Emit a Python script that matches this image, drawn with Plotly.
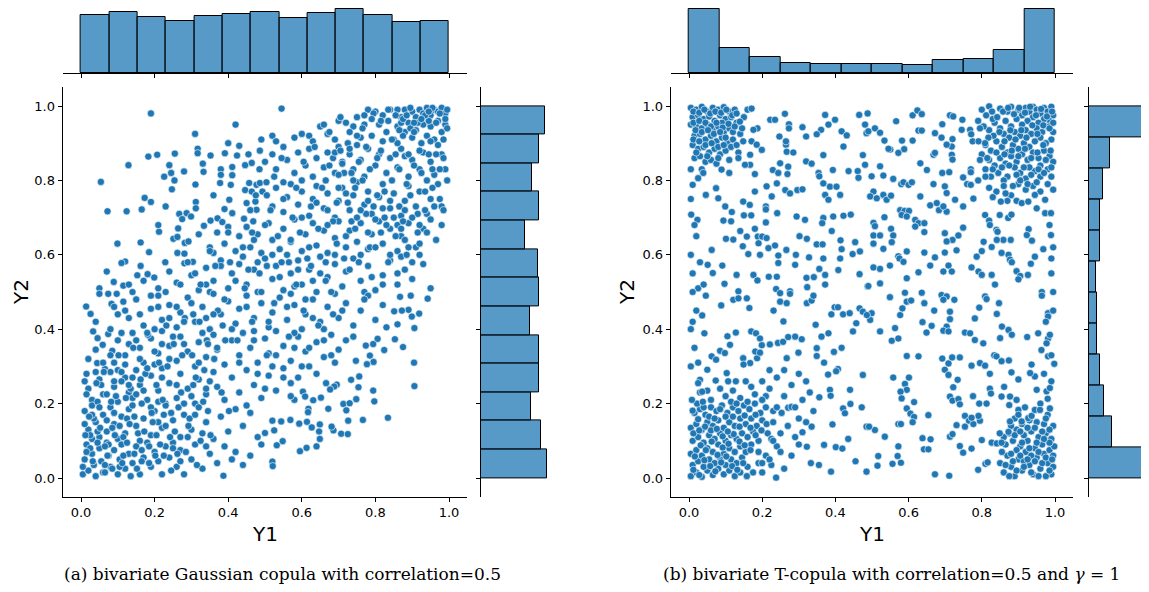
import plotly.graph_objects as go

W, H = 1149, 592          # screen size of the target picture
OFF = 8                   # default page margin offset of the figure div
FW, FH = W - OFF, H - OFF # figure size

TICKS = [0.0, 0.2, 0.4, 0.6, 0.8, 1.0]
TICK_LABELS = ["0.0", "0.2", "0.4", "0.6", "0.8", "1.0"]

# ---------------- marginal histogram counts ----------------
gauss_y1_counts = [78, 82, 75, 70, 76, 79, 82, 74, 80, 86, 78, 68, 70]      # 13 bins, Y1
gauss_y2_counts = [90, 82, 69, 79, 80, 67, 80, 78, 60, 79, 70, 79, 88]      # 13 bins, Y2 (bottom->top)
t_y1_counts = [245, 94, 60, 39, 33, 33, 35, 29, 48, 52, 88, 245]            # 12 bins, Y1
t_y2_counts = [230, 90, 60, 44, 33, 30, 26, 43, 43, 55, 84, 261]            # 12 bins, Y2 (bottom->top)

# ---------------- (a) Gaussian copula sample, estimated points (Y1, Y2) ----------------
gauss_top = [(.19,.98),(.42,.95),(.31,.925),(.49,.91),(.545,.993),(.40,.90),(.43,.893),(.52,.92),(.53,.905),(.58,.915),(.60,.925),(.62,.92),(.65,.945),(.66,.95),(.70,.96),(.72,.955),(.74,.945),(.77,.95),(.78,.99),(.80,.985),(.82,.975),(.84,.99),(.86,.99),(.87,.97),(.88,.99),(.89,.955),(.90,.985),(.91,.97),(.92,.99),(.93,.98),(.94,.995),(.95,.975),(.96,.99),(.97,.985),(.98,.995),(.99,.98),(.995,.99),(.97,.96),(.95,.945),(.93,.95),(.91,.935),(.88,.93),(.86,.945),(.83,.93),(.81,.95),(.79,.92),(.76,.915),(.73,.93),(.69,.91),(.67,.925),(.63,.905),(.85,.91),(.90,.915),(.94,.92),(.98,.93),(.99,.95),(.96,.91),(.82,.905),(.75,.97),(.87,.955),
 (.183,.864),(.207,.869),(.255,.872),(.317,.885),(.317,.873),(.352,.867),(.391,.873),(.424,.867),(.455,.87),(.129,.841),(.24,.841),(.28,.824),(.226,.81),(.245,.82),(.254,.80),(.331,.845),(.333,.823),(.38,.83),(.38,.815),(.411,.836),(.411,.814),(.446,.841),(.464,.847),(.486,.88),(.054,.796),
 (.50,.85),(.52,.87),(.53,.83),(.55,.89),(.56,.855),(.58,.82),(.59,.875),(.61,.84),(.62,.885),(.63,.81),(.64,.86),(.66,.835),(.67,.875),(.69,.82),(.70,.89),(.71,.85),(.73,.87),(.74,.83),(.76,.855),(.77,.81),(.78,.885),(.80,.84),(.81,.87),(.83,.82),(.84,.86),(.86,.835),(.87,.885),(.89,.81),(.90,.855),(.92,.83),(.93,.875),(.95,.85),(.96,.815),(.98,.87),(.99,.83),(.97,.895),(.94,.80),(.88,.865),(.75,.895),(.60,.80)]
gauss_upper_mid = [(.072,.717),(.124,.717),(.165,.722),(.173,.753),(.19,.742),(.312,.742),(.312,.725),(.267,.71),(.287,.712),(.299,.703),(.247,.776),(.311,.789),(.378,.793),(.407,.788),(.457,.793),(.446,.774),(.403,.748),(.39,.723),(.411,.712),(.45,.739),(.474,.743),(.477,.721),(.493,.77),(.505,.76),(.464,.77),(.477,.788),(.486,.793),(.504,.795),
 (.52,.73),(.53,.78),(.55,.715),(.56,.755),(.57,.79),(.59,.735),(.60,.77),(.62,.705),(.63,.75),(.64,.785),(.66,.725),(.67,.765),(.69,.70),(.70,.745),(.71,.78),(.73,.72),(.74,.76),(.75,.795),(.77,.735),(.78,.77),(.79,.71),(.81,.755),(.82,.79),(.84,.725),(.85,.765),(.87,.705),(.88,.745),(.89,.785),(.91,.73),(.92,.77),(.94,.71),(.95,.75),(.97,.79),(.98,.73),(.36,.76),(.23,.73),(.55,.795),
 (.443,.697),(.468,.69),(.212,.662),(.264,.671),(.251,.643),(.262,.648),(.282,.632),(.292,.636),(.099,.63),(.162,.633),(.185,.607),(.262,.605),(.281,.603),(.275,.696),(.334,.678),(.352,.692),(.371,.698),(.384,.688),
 (.32,.655),(.35,.62),(.37,.66),(.39,.63),(.40,.675),(.42,.61),(.43,.65),(.45,.675),(.46,.62),(.48,.655),(.49,.605),(.51,.685),(.52,.64),(.54,.615),(.55,.67),(.57,.635),(.58,.695),(.60,.61),(.61,.655),(.63,.685),(.64,.625),(.66,.665),(.67,.605),(.69,.645),(.70,.69),(.72,.62),(.73,.665),(.75,.635),(.76,.685),(.78,.615),(.79,.655),(.81,.69),(.82,.63),(.84,.67),(.86,.61),(.87,.65),(.89,.685),(.91,.62),(.93,.67),(.95,.695),(.92,.60),(.36,.605),(.47,.64),(.56,.60),(.21,.68)]
gauss_mid = [(.12,.582),(.11,.578),(.229,.58),(.281,.577),(.162,.57),(.153,.545),(.181,.548),(.199,.539),(.089,.527),(.115,.517),(.304,.581),
 (.05,.51),(.07,.555),(.14,.50),(.21,.51),(.24,.555),(.26,.525),(.30,.545),(.32,.505),(.34,.565),(.36,.53),(.38,.585),(.40,.51),(.41,.55),(.43,.575),(.45,.52),(.47,.56),(.48,.50),(.50,.59),(.52,.535),(.53,.57),(.55,.505),(.57,.55),(.59,.585),(.60,.52),(.62,.56),(.64,.50),(.65,.595),(.67,.54),(.69,.575),(.71,.515),(.72,.555),(.74,.59),(.76,.53),(.78,.57),(.80,.505),(.82,.545),(.84,.585),(.86,.52),(.88,.56),(.90,.535),(.93,.575),(.95,.51),(.87,.595),(.63,.53),(.44,.595),(.35,.50),(.77,.50),(.58,.515),
 (.05,.495),(.074,.495),(.097,.495),(.014,.461),(.026,.441),(.083,.468),(.115,.474),(.942,.482),(.896,.49),(.867,.487),(.919,.442),(.899,.434),(.89,.452),(.872,.45),(.851,.448),(.86,.413),(.906,.403),
 (.04,.42),(.13,.43),(.15,.48),(.17,.41),(.19,.455),(.21,.49),(.22,.425),(.24,.465),(.26,.405),(.27,.445),(.29,.485),(.31,.42),(.33,.46),(.35,.40),(.36,.495),(.38,.44),(.40,.475),(.42,.415),(.43,.455),(.45,.49),(.47,.43),(.49,.47),(.51,.405),(.52,.445),(.54,.485),(.56,.425),(.58,.465),(.60,.40),(.61,.44),(.63,.48),(.65,.42),(.67,.46),(.69,.495),(.70,.43),(.72,.47),(.74,.41),(.76,.45),(.78,.49),(.80,.425),(.82,.465),(.83,.405),(.10,.44),(.57,.495),(.34,.43)]
gauss_lower_mid = [(.853,.373),(.875,.352),(.824,.344),(.905,.31),(.806,.374),(.794,.36),(.774,.356),(.785,.329),(.795,.312),(.777,.306),(.747,.315),(.033,.394),(.074,.387),(.045,.376),(.059,.358),(.085,.342),(.044,.309),
 (.10,.37),(.12,.33),(.14,.39),(.16,.35),(.17,.31),(.19,.375),(.21,.335),(.22,.395),(.24,.355),(.26,.315),(.27,.38),(.29,.34),(.31,.30),(.32,.365),(.34,.325),(.36,.385),(.37,.345),(.39,.305),(.41,.37),(.43,.33),(.44,.39),(.46,.35),(.48,.31),(.50,.375),(.51,.335),(.53,.395),(.55,.355),(.57,.315),(.59,.38),(.61,.34),(.62,.30),(.64,.365),(.66,.325),(.68,.385),(.70,.345),(.72,.37),(.13,.36),(.20,.305),(.28,.36),(.47,.395),(.58,.35),(.69,.31),(.09,.31),
 (.734,.264),(.756,.273),(.754,.244),(.794,.235),(.797,.206),(.748,.212),(.695,.251),(.688,.246),(.677,.238),(.666,.255),(.906,.247),(.603,.232),(.609,.219),(.652,.216),(.631,.209),(.065,.293),(.015,.28),
 (.02,.24),(.03,.21),(.05,.265),(.06,.225),(.08,.285),(.09,.245),(.10,.205),(.12,.27),(.13,.23),(.15,.29),(.16,.25),(.18,.21),(.19,.275),(.21,.235),(.22,.295),(.24,.255),(.26,.215),(.27,.28),(.29,.24),(.31,.20),(.32,.265),(.34,.225),(.36,.285),(.37,.245),(.39,.21),(.41,.27),(.43,.23),(.45,.29),(.47,.25),(.49,.215),(.51,.275),(.53,.235),(.55,.295),(.57,.255),(.59,.27),(.04,.285),(.11,.26),(.23,.20),(.35,.26),(.58,.21),(.14,.215),(.01,.26)]
gauss_bottom = [(.834,.162),(.713,.199),(.73,.201),(.721,.182),(.726,.154),(.707,.119),(.725,.118),(.686,.128),(.681,.138),(.649,.144),(.647,.125),(.649,.105),(.766,.156),(.672,.186),(.618,.186),(.617,.177),(.627,.136),(.614,.151),(.593,.146),(.569,.156),(.544,.152),(.52,.154),(.525,.128),(.50,.121),
 (.01,.18),(.02,.13),(.03,.195),(.04,.15),(.05,.11),(.06,.17),(.07,.125),(.08,.19),(.09,.145),(.10,.105),(.11,.165),(.12,.12),(.13,.185),(.15,.14),(.16,.10),(.17,.16),(.19,.115),(.20,.18),(.22,.135),(.23,.195),(.25,.155),(.27,.11),(.28,.17),(.30,.13),(.32,.19),(.34,.15),(.36,.105),(.38,.165),(.40,.125),(.42,.185),(.44,.14),(.46,.175),(.48,.11),(.03,.105),(.07,.155),(.14,.195),(.21,.15),(.33,.12),(.45,.195),(.09,.175),
 (.64,.085),(.613,.081),(.595,.072),(.548,.099),(.532,.088),(.52,.044),(.521,.032),(.387,.006),(.44,.035),(.42,.07),
 (.005,.01),(.01,.05),(.015,.09),(.02,.02),(.03,.065),(.035,.035),(.04,.005),(.05,.08),(.055,.045),(.06,.015),(.07,.095),(.075,.06),(.08,.03),(.09,.075),(.10,.01),(.105,.05),(.11,.09),(.12,.025),(.13,.065),(.14,.04),(.15,.085),(.16,.01),(.17,.055),(.18,.095),(.19,.03),(.20,.07),(.21,.045),(.22,.01),(.23,.085),(.24,.055),(.26,.03),(.27,.075),(.28,.01),(.30,.05),(.31,.09),(.33,.025),(.35,.065),(.37,.04),(.39,.085),(.41,.05),(.46,.06),(.49,.09),(.025,.08),(.065,.035),(.115,.06),(.165,.075),(.045,.095),(.135,.005),(.25,.095),(.34,.085)]
gauss_extra_tr = [(.665,.80),(.675,.93),(.685,.86),(.695,.74),(.705,.97),(.715,.82),(.725,.90),(.735,.69),(.745,.78),(.755,.85),(.765,.94),(.775,.71),(.785,.83),(.795,.98),(.805,.76),(.815,.88),(.825,.70),(.835,.96),(.845,.80),(.855,.87),(.865,.73),(.875,.92),(.885,.79),(.895,.995),(.905,.84),(.915,.71),(.925,.90),(.935,.77),(.945,.96),(.955,.83),(.965,.87),(.975,.75),(.985,.91),(.995,.80),(.99,.965),(.975,.98),(.955,.995),(.935,.975),(.915,.955),(.895,.94),(.875,.965),(.855,.975),(.835,.99),(.815,.96),(.79,.965),(.77,.975),(.75,.92),(.73,.885),(.71,.845),(.69,.875),(.67,.72),(.96,.73),(.98,.68),(.94,.66),(.92,.68),(.90,.70),(.88,.72),(.86,.68),(.84,.745),(.82,.725),(.80,.695),(.78,.745),(.76,.72),(.74,.80),(.72,.765),(.70,.815),(.86,.90),(.89,.87),(.92,.88),(.95,.905),
 (.455,.56),(.465,.66),(.475,.76),(.485,.83),(.505,.57),(.515,.72),(.525,.81),(.535,.65),(.545,.86),(.565,.58),(.575,.70),(.585,.78),(.595,.66),(.605,.85),(.615,.59),(.625,.73),(.635,.89),(.645,.67),(.655,.78),(.665,.58),(.675,.84),(.685,.69),(.695,.63),(.705,.88),(.715,.59),(.725,.74),(.735,.82),(.745,.67),(.755,.58),(.765,.80),(.775,.89),(.785,.62),(.795,.73),(.805,.86),(.815,.66),(.825,.77),(.835,.58),(.845,.91),(.855,.65),(.865,.83),(.875,.69),(.885,.60),(.895,.76),(.905,.93),(.915,.66),(.925,.82),(.935,.72),(.945,.87),(.955,.78),(.965,.64),(.975,.83),(.985,.72),(.995,.94),(.985,.86),(.965,.955),(.945,.985),(.925,.965),(.905,.955),(.885,.975),(.865,.935)]
gauss_extra_bl = [(.005,.03),(.015,.07),(.025,.115),(.035,.16),(.045,.205),(.055,.25),(.065,.015),(.075,.09),(.085,.135),(.095,.22),(.105,.03),(.115,.11),(.125,.16),(.135,.24),(.145,.065),(.155,.12),(.165,.20),(.175,.28),(.185,.04),(.195,.15),(.205,.25),(.215,.09),(.225,.17),(.235,.30),(.245,.02),(.255,.125),(.265,.19),(.275,.33),(.285,.07),(.295,.16),(.305,.25),(.315,.035),(.325,.10),(.335,.29),(.345,.18),(.02,.32),(.04,.345),(.06,.31),(.08,.33),(.10,.29),(.12,.305),(.14,.27),(.16,.32),(.18,.295),(.20,.34),(.22,.27),(.24,.32),(.26,.25),(.28,.20),(.30,.22),(.32,.31),(.34,.24),(.01,.145),(.03,.17),(.05,.19),(.07,.225),(.09,.26),(.11,.285),(.13,.25),(.15,.225),(.17,.235),(.19,.19),(.21,.205),(.23,.14),(.25,.08),(.27,.045),(.29,.11),(.31,.17),(.015,.225),(.045,.125),(.065,.085),(.085,.025),(.105,.14),(.125,.095),(.145,.165),(.165,.045),(.185,.085),(.205,.115),(.225,.06),(.245,.175),
 (.012,.115),(.022,.165),(.032,.045),(.042,.255),(.052,.135),(.062,.285),(.072,.06),(.082,.205),(.092,.115),(.102,.33),(.112,.04),(.122,.215),(.132,.145),(.142,.35),(.152,.025),(.162,.265),(.172,.125),(.182,.385),(.192,.175),(.202,.06),(.212,.31),(.222,.21),(.232,.41),(.242,.11),(.252,.36),(.262,.065),(.272,.23),(.282,.43),(.292,.14),(.302,.33),(.312,.27),(.322,.42),(.332,.205),(.342,.37),(.352,.115),(.362,.32),(.372,.45),(.382,.23),(.392,.37),(.402,.18)]
gauss_extra_diag = [(.30,.47),(.31,.55),(.33,.39),(.34,.52),(.35,.61),(.36,.44),(.37,.35),(.38,.57),(.39,.48),(.40,.66),(.41,.40),(.42,.53),(.43,.31),(.44,.62),(.45,.46),(.46,.72),(.47,.37),(.48,.58),(.49,.50),(.50,.68),(.51,.42),(.52,.60),(.53,.33),(.54,.54),(.55,.75),(.56,.46),(.57,.64),(.58,.39),(.59,.56),(.60,.70),(.61,.48),(.62,.62),(.63,.43),(.64,.74),(.65,.55),(.66,.40),(.67,.68),(.68,.50),(.69,.60),(.70,.78),(.71,.45),(.72,.65),(.73,.56),(.74,.38),(.75,.70),(.76,.60),(.77,.48),(.78,.66),(.79,.54),(.80,.62),
 (.25,.38),(.26,.46),(.27,.52),(.28,.42),(.29,.58),(.20,.40),(.21,.46),(.22,.36),(.23,.50),(.24,.43),(.15,.37),(.16,.44),(.17,.53),(.18,.39),(.19,.49),(.12,.45),(.11,.39),(.13,.52),(.08,.40),(.09,.46),
 (.60,.30),(.62,.35),(.64,.28),(.66,.37),(.68,.33),(.55,.27),(.57,.22),(.52,.30),(.50,.24),(.48,.28),(.82,.52),(.84,.60),(.86,.55),(.88,.64),(.90,.58),(.85,.70),(.87,.67),(.83,.68),(.89,.62),(.92,.63),
 (.305,.44),(.325,.52),(.345,.36),(.365,.57),(.385,.41),(.405,.58),(.425,.37),(.445,.51),(.465,.42),(.485,.55),(.505,.33),(.525,.47),(.545,.58),(.565,.38),(.585,.52),(.605,.45),(.625,.57),(.645,.41),(.665,.53),(.685,.44)]

# ---------------- (b) T-copula sample, estimated points (Y1, Y2) ----------------
t_corner_tl = [(.005,.995),(.02,.99),(.035,.998),(.05,.985),(.065,.995),(.08,.99),(.095,.997),(.11,.985),(.125,.99),(.01,.97),(.025,.975),(.04,.965),(.055,.972),(.07,.96),(.085,.975),(.10,.965),(.115,.97),(.13,.955),(.005,.95),(.02,.945),(.035,.94),(.05,.95),(.065,.935),(.08,.945),(.095,.93),(.11,.94),(.015,.92),(.03,.925),(.045,.91),(.06,.92),(.075,.905),(.09,.915),(.105,.90),(.12,.91),(.01,.895),(.025,.885),(.04,.89),(.055,.875),(.07,.885),(.085,.87),(.10,.88),(.135,.875),(.015,.86),(.03,.865),(.045,.85),(.06,.855),(.075,.845),(.11,.855),(.005,.83),(.035,.83),(.14,.925),(.15,.97),(.16,.99),(.12,.93),(.09,.955),
 (.012,.985),(.028,.982),(.042,.99),(.058,.98),(.072,.985),(.088,.982),(.102,.99),(.118,.975),(.012,.955),(.028,.96),(.045,.955),(.06,.945),(.075,.955),(.092,.942),(.108,.952),(.125,.945),(.018,.935),(.035,.93),(.052,.935),(.068,.925),(.085,.93),(.1,.915),(.012,.91),(.028,.905),(.045,.895),(.062,.9),(.08,.89),(.095,.895),(.115,.89),(.02,.875),(.05,.865),(.08,.86),(.13,.895),(.145,.94),(.13,.98)]
t_corner_tr = [(.80,.99),(.82,.999),(.85,.993),(.87,.985),(.88,.998),(.90,.99),(.91,.975),(.92,.995),(.93,.985),(.94,.998),(.95,.99),(.96,.98),(.97,.995),(.98,.985),(.99,.998),(.995,.975),(.985,.96),(.97,.965),(.955,.955),(.94,.97),(.925,.96),(.91,.95),(.895,.965),(.88,.945),(.865,.96),(.85,.94),(.835,.955),(.82,.935),(.83,.965),(.86,.925),(.875,.915),(.89,.93),(.905,.92),(.92,.935),(.935,.925),(.95,.94),(.965,.93),(.98,.945),(.995,.93),(.99,.91),(.975,.90),(.96,.915),(.945,.905),(.93,.89),(.915,.90),(.90,.885),(.885,.895),(.87,.875),(.855,.89),(.84,.905),(.825,.88),(.81,.895),(.80,.87),(.82,.855),(.835,.84),(.85,.86),(.865,.845),(.88,.865),(.895,.85),(.91,.87),(.925,.855),(.94,.875),(.955,.86),(.97,.88),(.985,.865),(.995,.85),(.98,.83),(.96,.84),(.945,.825),(.93,.835),(.905,.82),(.89,.835),(.87,.81),(.845,.82),(.825,.81),(.81,.83),(.96,.81),(.99,.81),(.92,.805),(.86,.80),
 (.82,.78),(.84,.77),(.86,.785),(.88,.76),(.90,.79),(.92,.775),(.94,.785),(.96,.77),(.98,.79),(.995,.775),(.83,.755),(.87,.745),
 (.812,.975),(.828,.985),(.842,.97),(.858,.985),(.872,.995),(.888,.978),(.902,.995),(.918,.982),(.932,.998),(.948,.975),(.962,.992),(.978,.972),(.992,.985),(.985,.945),(.968,.948),(.952,.925),(.938,.948),(.922,.915),(.908,.935),(.892,.91),(.878,.935),(.862,.905),(.848,.93),(.832,.92),(.818,.915),(.805,.945),(.79,.96),(.775,.905),(.795,.855),(.815,.86),(.84,.875),(.862,.87),(.882,.88),(.9,.865),(.918,.885),(.935,.86),(.952,.875),(.968,.895),(.988,.88),(.975,.855),(.955,.83),(.935,.815),(.915,.835),(.895,.815),(.875,.84),(.855,.835),(.83,.83),(.81,.81),(.79,.8),(.77,.83),(.76,.79),(.99,.835),(.97,.82),(.95,.795),(.925,.79),(.905,.8),(.885,.785),(.865,.765),(.985,.94),(.995,.955)]
t_corner_bl = [(.005,.005),(.02,.015),(.035,.003),(.05,.02),(.065,.008),(.08,.025),(.095,.01),(.11,.02),(.125,.005),(.14,.015),(.01,.035),(.025,.045),(.04,.03),(.055,.05),(.07,.04),(.085,.055),(.10,.035),(.115,.05),(.13,.04),(.145,.055),(.16,.03),(.005,.065),(.02,.075),(.035,.06),(.05,.08),(.065,.07),(.08,.09),(.095,.065),(.11,.08),(.125,.07),(.14,.085),(.155,.07),(.17,.09),(.01,.10),(.025,.11),(.04,.095),(.055,.115),(.07,.105),(.085,.12),(.10,.10),(.115,.115),(.13,.105),(.145,.12),(.16,.11),(.175,.125),(.19,.10),(.005,.135),(.02,.145),(.035,.13),(.05,.15),(.065,.14),(.08,.155),(.095,.135),(.11,.15),(.125,.14),(.14,.16),(.155,.145),(.17,.16),(.185,.14),(.2,.155),(.015,.175),(.03,.185),(.045,.17),(.06,.19),(.075,.18),(.09,.195),(.105,.175),(.12,.19),(.135,.18),(.15,.195),(.165,.185),(.18,.20),(.195,.175),(.21,.19),(.06,.21),(.10,.22),(.14,.215),(.18,.225),(.03,.23),(.215,.12),
 (.012,.022),(.028,.008),(.042,.048),(.058,.032),(.072,.018),(.088,.042),(.102,.058),(.118,.032),(.132,.022),(.148,.04),(.016,.058),(.032,.088),(.046,.075),(.062,.098),(.078,.062),(.092,.082),(.108,.092),(.122,.118),(.138,.098),(.152,.088),(.168,.075),(.182,.115),(.012,.12),(.028,.128),(.044,.138),(.06,.128),(.076,.132),(.092,.112),(.106,.125),(.12,.165),(.138,.138),(.152,.168),(.168,.135),(.182,.17),(.198,.128),(.212,.145),(.225,.105),(.24,.085),(.23,.18),(.025,.158),(.04,.19),(.055,.165),(.07,.16),(.085,.185),(.1,.165),(.115,.205),(.13,.2),(.16,.205),(.2,.21),(.022,.2),(.008,.21),(.05,.235),(.085,.24),(.12,.235),(.17,.245),(.21,.06),(.19,.04),(.175,.015),(.2,.015),(.225,.035)]
t_corner_br = [(.85,.04),(.86,.015),(.87,.06),(.88,.03),(.89,.005),(.90,.05),(.91,.02),(.92,.07),(.93,.035),(.94,.01),(.95,.055),(.96,.025),(.97,.065),(.98,.04),(.99,.01),(.995,.03),(.985,.075),(.965,.09),(.945,.08),(.925,.10),(.905,.085),(.885,.10),(.865,.09),(.875,.12),(.895,.13),(.915,.115),(.935,.125),(.955,.11),(.975,.12),(.99,.105),(.995,.14),(.97,.145),(.95,.15),(.93,.155),(.91,.145),(.89,.16),(.995,.06),(.975,.005),(.955,.005),(.935,.06),(.915,.045),(.895,.075),(.88,.065),(.98,.17),(.96,.20),
 (.855,.07),(.865,.035),(.875,.005),(.885,.045),(.895,.02),(.905,.06),(.915,.03),(.925,.05),(.935,.015),(.945,.045),(.955,.07),(.965,.04),(.975,.055),(.985,.02),(.992,.05),(.998,.085),(.985,.095),(.97,.105),(.95,.095),(.93,.08),(.91,.095),(.89,.115),(.905,.125),(.925,.135),(.945,.135),(.965,.125),(.985,.13),(.86,.11),(.88,.14),(.975,.16)]
t_upper_left = [(.171,.993),(.222,.963),(.235,.963),(.262,.979),(.273,.951),(.273,.94),(.31,.943),(.372,.976),(.399,.963),(.381,.95),(.361,.936),(.349,.924),(.417,.932),(.431,.921),(.422,.891),(.465,.976),(.481,.95),(.485,.927),(.247,.918),(.265,.896),(.265,.905),(.32,.918),(.187,.94),(.176,.936),(.148,.905),(.171,.905),(.199,.882),(.185,.896),(.167,.869),(.167,.842),(.153,.842),(.135,.86),(.139,.958),(.089,.829),(.11,.82),(.039,.82),(.025,.806),(.01,.788),(.046,.761),(.074,.779),(.08,.752),(.099,.73),(.117,.715),(.094,.692),(.115,.69),(.006,.708),(.023,.694),(.062,.613),(.051,.573),(.065,.551),(.091,.571),(.097,.522),(.025,.51),(.14,.664),(.158,.649),(.101,.643),(.121,.641),(.147,.623),(.162,.602),(.18,.67),(.188,.649),(.2,.649),(.212,.645),(.19,.631),(.217,.618),(.235,.625),(.194,.60),(.148,.743),(.166,.734),(.15,.706),(.17,.706),(.18,.77),(.212,.784),(.226,.757),(.21,.73),(.241,.712),(.21,.722),(.21,.687),(.18,.817),(.229,.828),(.244,.82),(.269,.817),(.24,.792),(.263,.774),(.276,.765),(.296,.774),(.31,.776),(.249,.846),(.271,.837),(.267,.877),(.285,.875),(.32,.851),(.335,.845),(.354,.82),(.356,.811),(.367,.868),(.393,.828),(.367,.792),(.385,.783),(.403,.783),(.372,.761),(.381,.748),(.413,.761),(.436,.825),(.461,.825),(.463,.807),(.475,.868),(.481,.842),(.294,.703),(.317,.694),(.367,.699),(.364,.685),(.394,.703),(.422,.705),(.442,.708),(.39,.664),(.302,.65),(.322,.643),(.349,.628),(.365,.628),(.414,.639),(.454,.634),(.467,.609),(.447,.602),(.266,.613),(.292,.60),(.328,.593),(.367,.59),(.413,.59),(.417,.615),(.244,.598),(.244,.578),(.29,.573),(.356,.562),(.372,.546),(.408,.559),(.466,.548),(.321,.538),(.341,.54),(.323,.513),(.13,.546),(.176,.546),(.187,.531),(.218,.541),(.24,.541),(.372,.52),(.488,.515),(.238,.508),(.276,.502),(.135,.502)]
t_upper_right = [(.488,.98),(.49,.932),(.508,.94),(.522,.928),(.534,.907),(.55,.883),(.545,.885),(.572,.874),(.588,.884),(.582,.907),(.566,.959),(.611,.975),(.624,.988),(.636,.978),(.627,.934),(.636,.934),(.611,.907),(.672,.927),(.692,.951),(.69,.915),(.72,.911),(.718,.891),(.704,.896),(.713,.975),(.722,.972),(.747,.963),(.745,.936),(.768,.936),(.771,.924),(.795,.94),(.791,.905),(.809,.90),(.632,.846),(.65,.828),(.668,.869),(.672,.874),(.718,.869),(.72,.856),(.692,.82),(.711,.822),(.749,.808),(.77,.822),(.77,.788),(.499,.811),(.531,.813),(.522,.838),(.558,.804),(.58,.79),(.586,.795),(.60,.788),(.609,.795),(.668,.79),(.699,.784),(.704,.766),(.504,.77),(.495,.757),(.513,.752),(.531,.761),(.54,.748),(.552,.759),(.632,.757),(.659,.733),(.677,.739),(.683,.72),(.704,.716),(.695,.73),(.727,.748),(.749,.73),(.777,.751),(.577,.72),(.589,.718),(.601,.718),(.581,.707),(.595,.703),(.618,.694),(.627,.685),(.643,.685),(.618,.676),(.534,.701),(.504,.686),(.508,.677),(.552,.67),(.558,.652),(.554,.634),(.504,.652),(.522,.652),(.504,.63),(.531,.616),(.643,.661),(.643,.606),(.595,.609),(.572,.596),(.672,.593),(.699,.658),(.72,.64),(.704,.636),(.736,.652),(.699,.606),(.731,.612),(.749,.673),(.786,.595),(.772,.566),(.80,.61),(.805,.635),(.827,.621),(.504,.566),(.522,.562),(.549,.571),(.575,.59),(.586,.581),(.627,.553),(.659,.571),(.695,.555),(.709,.571),(.718,.555),(.791,.555),(.80,.546),(.827,.546),(.49,.516),(.522,.523),(.595,.537),(.836,.52),(.809,.707),(.82,.692),(.822,.68),(.84,.667),(.849,.707),(.872,.699),(.881,.708),(.852,.743),(.895,.745),(.909,.739),(.927,.743),(.95,.725),(.973,.712),(.989,.712),(.945,.761),(.973,.748),(.879,.64),(.859,.64),(.841,.64),(.843,.662),(.928,.669),(.923,.653),(.937,.638),(.989,.653),(.968,.615),(.945,.595),(.873,.60),(.877,.587),(.882,.58),(.895,.556),(.905,.543),(.90,.534),(.926,.546),(.934,.576),(.854,.605),(.964,.50)]
t_lower_left = [(.046,.49),(.036,.437),(.088,.464),(.121,.479),(.135,.483),(.158,.483),(.165,.457),(.042,.389),(.128,.391),(.105,.381),(.112,.358),(.085,.342),(.098,.336),(.062,.327),(.074,.318),(.05,.291),(.03,.264),(.025,.255),(.036,.232),(.038,.205),(.01,.181),(.148,.322),(.167,.309),(.149,.305),(.186,.322),(.103,.282),(.107,.26),(.073,.262),(.128,.26),(.155,.26),(.17,.394),(.183,.389),(.194,.375),(.199,.357),(.221,.359),(.181,.34),(.194,.337),(.243,.363),(.257,.366),(.271,.379),(.267,.322),(.231,.45),(.258,.421),(.249,.474),(.267,.47),(.249,.497),(.276,.495),(.322,.47),(.335,.477),(.34,.49),(.346,.412),(.362,.38),(.381,.389),(.308,.373),(.29,.38),(.299,.337),(.349,.349),(.349,.328),(.369,.31),(.396,.339),(.417,.35),(.389,.44),(.398,.459),(.407,.459),(.421,.44),(.439,.443),(.448,.394),(.457,.416),(.466,.456),(.475,.447),(.407,.293),(.402,.287),(.38,.278),(.44,.237),(.475,.277),(.385,.237),(.387,.221),(.356,.217),(.421,.187),(.426,.174),(.441,.199),(.472,.19),(.485,.138),(.392,.144),(.435,.105),(.401,.083),(.419,.079),(.369,.089),(.322,.084),(.333,.04),(.355,.035),(.388,.017),(.455,.045),(.485,.017),(.335,.138),(.31,.123),(.271,.189),(.28,.191),(.253,.175),(.238,.001),(.158,.005),
 (.22,.24),(.24,.27),(.26,.22),(.28,.25),(.30,.28),(.23,.15),(.25,.12),(.27,.14),(.29,.11),(.30,.16),(.31,.21),(.32,.26),(.33,.23),(.26,.29),(.22,.29),(.20,.26),(.21,.22),(.23,.10),(.25,.07),(.28,.06),(.30,.09),(.22,.05),(.26,.025),(.20,.04),(.19,.07),(.24,.19),(.20,.21),(.34,.18),(.32,.15),(.29,.19)]
t_lower_right = [(.549,.486),(.59,.498),(.595,.474),(.607,.477),(.636,.498),(.643,.47),(.67,.45),(.69,.492),(.704,.488),(.695,.479),(.725,.479),(.713,.447),(.713,.427),(.704,.407),(.695,.396),(.709,.394),(.577,.438),(.583,.456),(.499,.443),(.495,.425),(.486,.438),(.522,.394),(.554,.369),(.572,.375),(.563,.403),(.638,.419),(.663,.409),(.649,.391),(.754,.391),(.768,.389),(.781,.371),(.804,.362),(.809,.488),(.813,.481),(.847,.47),(.841,.441),(.781,.429),(.793,.458),(.855,.407),(.873,.398),(.882,.385),(.85,.376),(.924,.379),(.954,.389),(.981,.375),(.986,.385),(.964,.49),(.981,.443),(.981,.434),(.977,.362),(.963,.344),(.981,.327),(.998,.307),(.936,.305),(.945,.273),(.932,.282),(.595,.328),(.627,.327),(.558,.27),(.59,.253),(.601,.27),(.595,.237),(.578,.232),(.581,.214),(.615,.204),(.595,.187),(.605,.173),(.615,.164),(.611,.15),(.572,.145),(.579,.145),(.654,.169),(.638,.107),(.66,.104),(.642,.077),(.654,.077),(.572,.085),(.57,.059),(.579,.041),(.556,.038),(.517,.059),(.515,.033),(.535,.111),(.508,.129),(.492,.138),(.485,.017),(.672,.01),(.711,.006),(.692,.321),(.709,.308),(.699,.291),(.719,.324),(.74,.324),(.709,.277),(.734,.264),(.722,.244),(.713,.219),(.72,.208),(.736,.212),(.74,.198),(.772,.302),(.795,.309),(.809,.302),(.822,.28),(.834,.33),(.84,.327),(.854,.314),(.874,.316),(.881,.284),(.90,.265),(.776,.22),(.793,.20),(.813,.20),(.822,.24),(.825,.227),(.854,.219),(.861,.245),(.877,.219),(.895,.21),(.875,.196),(.90,.183),(.918,.19),(.754,.167),(.765,.154),(.777,.145),(.795,.154),(.791,.167),(.772,.162),(.713,.111),(.72,.118),(.731,.142),(.754,.138),(.74,.086),(.749,.068),(.772,.079),(.80,.102),(.81,.038),(.79,.022),(.816,.042),(.827,.095),(.841,.093),(.854,.095),(.849,.12),(.877,.152),(.873,.124),(.90,.17),(.909,.152),(.927,.161),(.936,.167),(.95,.237),(.977,.233),(.98,.213),(.986,.242),(.945,.183),(.959,.183),(.986,.187)]
t_edges = [(.99,.26),(.995,.45),(.99,.55),(.995,.62),(.985,.68),(.99,.59),(.975,.42),(.99,.33),(.97,.28),(.995,.50),
 (.005,.60),(.01,.55),(.02,.45),(.005,.40),(.015,.35),(.005,.30),(.01,.50),(.02,.65),(.005,.75),(.015,.68),(.03,.58),(.04,.52),(.01,.42),(.025,.31)]

gauss_points = (gauss_top + gauss_upper_mid + gauss_mid + gauss_lower_mid + gauss_bottom
                + gauss_extra_tr + gauss_extra_bl + gauss_extra_diag)
t_points = (t_corner_tl + t_corner_tr + t_corner_bl + t_corner_br + t_upper_left
            + t_upper_right + t_lower_left + t_lower_right + t_edges)

# ---------------- styling ----------------
PT_COLOR = "#1f77b4"
BAR_COLOR = "rgba(31,119,180,0.75)"
TICK_FONT = dict(family="DejaVu Sans", size=13, color="black")


def px_x(p):
    return min(1.0, max(0.0, (p - OFF) / FW))


def px_y(p):
    return min(1.0, max(0.0, 1 - (p - OFF) / FH))


def bins(counts):
    n = len(counts)
    w = 1.0 / n
    return [w * (i + 0.5) for i in range(n)], w


fig = go.Figure()


def add_panel(idx, pts, c1, c2, x0, x1, hx0, hx1, hist_vis_frac):
    a = 3 * idx + 1
    sx, sy = ("x", "y") if a == 1 else (f"x{a}", f"y{a}")
    tx, ty = f"x{a+1}", f"y{a+1}"
    rx, ry = f"x{a+2}", f"y{a+2}"

    fig.add_trace(go.Scatter(
        x=[p[0] for p in pts], y=[p[1] for p in pts], mode="markers",
        marker=dict(color=PT_COLOR, size=7.2, line=dict(color="white", width=0.6)),
        xaxis=sx, yaxis=sy, showlegend=False, hoverinfo="skip"))

    cx, w = bins(c1)
    fig.add_trace(go.Bar(x=cx, y=c1, width=w, marker=dict(color=BAR_COLOR, line=dict(color="black", width=1)),
                         xaxis=tx, yaxis=ty, showlegend=False, hoverinfo="skip"))
    cy, w2 = bins(c2)
    fig.add_trace(go.Bar(y=cy, x=c2, width=w2, orientation="h",
                         marker=dict(color=BAR_COLOR, line=dict(color="black", width=1)),
                         xaxis=rx, yaxis=ry, showlegend=False, hoverinfo="skip"))

    sdom_x = [px_x(x0), px_x(x1)]
    sdom_y = [px_y(496.6), px_y(87.4)]
    axis_common = dict(range=[-0.05, 1.05], showgrid=False, zeroline=False,
                       showline=True, linecolor="black", linewidth=1,
                       ticks="outside", ticklen=4, tickwidth=1, tickcolor="black",
                       tickvals=TICKS, ticktext=TICK_LABELS, tickfont=TICK_FONT)
    key = lambda s: "xaxis" + s[1:] if s.startswith("x") else "yaxis" + s[1:]
    fig.layout[key(sx)] = dict(domain=sdom_x, anchor=sy, **axis_common)
    fig.layout[key(sy)] = dict(domain=sdom_y, anchor=sx, **axis_common)

    # top marginal (top of axis limited by the page margin)
    fig.layout[key(tx)] = dict(domain=sdom_x, anchor=ty, **{**axis_common, "showticklabels": False})
    fig.layout[key(ty)] = dict(domain=[px_y(73), px_y(8)], anchor=tx, visible=False,
                               range=[0, max(c1) * 1.01])
    # right marginal
    fig.layout[key(ry)] = dict(domain=sdom_y, anchor=rx, **{**axis_common, "showticklabels": False})
    fig.layout[key(rx)] = dict(domain=[px_x(hx0), px_x(hx1)], anchor=ry, visible=False,
                               range=[0, max(c2) * 1.05 * hist_vis_frac])


add_panel(0, gauss_points, gauss_y1_counts, gauss_y2_counts, 62.6, 467.4, 481, 550, 1.0)
add_panel(1, t_points, t_y1_counts, t_y2_counts, 670.7, 1073.3, 1089, 1149, 60 / 70.0)

ann = []
LABEL_FONT = dict(family="DejaVu Sans", size=20, color="black")
CAP_FONT = dict(family="DejaVu Serif", size=17, color="black")
for cx, cy, txt, ang, f in [
    (265, 534, "Y1", 0, LABEL_FONT), (21, 292, "Y2", -90, LABEL_FONT),
    (872, 534, "Y1", 0, LABEL_FONT), (627, 292, "Y2", -90, LABEL_FONT),
    (282, 574, "(a) bivariate Gaussian copula with correlation=0.5", 0, CAP_FONT),
    (891, 574, "(b) bivariate T-copula with correlation=0.5 and <i>γ</i> = 1", 0, CAP_FONT),
]:
    ann.append(dict(x=px_x(cx), y=px_y(cy), xref="paper", yref="paper", text=txt,
                    showarrow=False, textangle=ang, font=f, xanchor="center", yanchor="middle",
                    borderpad=0))

fig.update_layout(width=FW, height=FH, margin=dict(l=0, r=0, t=0, b=0),
                  paper_bgcolor="white", plot_bgcolor="white", annotations=ann,
                  bargap=0)

fig.write_html("out.html")
